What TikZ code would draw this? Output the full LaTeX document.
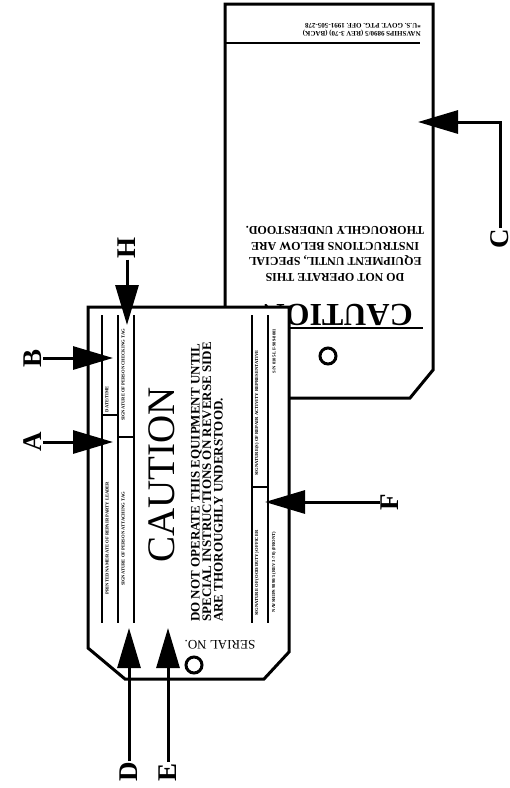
\documentclass[tikz,border=0pt]{standalone}
\usepackage{fontspec}
\setmainfont{Liberation Serif}
\usetikzlibrary{arrows.meta}

\begin{document}
\begin{tikzpicture}[x=1pt, y=-1pt,
  tagline/.style={line width=3pt, line join=miter, fill=white},
  field/.style={line width=2.4pt},
  fieldtext/.style={font=\fontsize{4.6}{5}\selectfont\bfseries, rotate=90, inner sep=0pt},
  letter/.style={font=\fontsize{27}{27}\selectfont\bfseries, rotate=90, inner sep=1pt},
  callout/.style={line width=3pt, -{Triangle[length=40pt,width=23pt]}}]
  \useasboundingbox (0,0) rectangle (510,788);
  % back of the tag
  \draw[tagline] (225,4) -- (433,4) -- (433,370) -- (410,398) -- (225,398) -- cycle;
  \draw[line width=2pt] (225,43) -- (420,43);
  \node[rotate=180, anchor=north west, inner sep=0pt, align=left,
        font=\fontsize{7}{8}\selectfont\bfseries] (formno) at (421,37)
        {NAVSHIPS 9890/5 (REV 3-70) (BACK)\\*U.S. GOVT. PTG. OFF. 1991-505-278};
  \node[rotate=180, align=center, font=\fontsize{12}{15.5}\selectfont\bfseries] (backwarn) at (335,254)
        {DO NOT OPERATE THIS\\EQUIPMENT UNTIL, SPECIAL\\INSTRUCTIONS BELOW ARE\\THOROUGHLY UNDERSTOOD.};
  \node[rotate=180, anchor=west, inner sep=0pt, font=\fontsize{32}{32}\selectfont\bfseries] (backcaution) at (413,315) {CAUTION};
  \draw[line width=2.4pt] (240,328) -- (423,328);
  \draw[line width=3pt] (328,356) circle[radius=8pt];
  % front of the tag
  \draw[tagline] (88,307) -- (289,307) -- (289,652) -- (264,679) -- (125,679) -- (88,648) -- cycle;
  \foreach \x in {102,118,134,252,268}
    \draw[field] (\x,315) -- (\x,623);
  \draw[field] (102,415) -- (118,415);
  \draw[field] (118,437) -- (134,437);
  \draw[field] (252,487) -- (268,487);
  \node[fieldtext] (date) at (107,399) {DATE/TIME};
  \node[fieldtext] (leader) at (107,538) {PRINTED NAME/RATE OF REPAIR PARTY LEADER};
  \node[fieldtext] (checking) at (123,375) {SIGNATURE OF PERSON CHECKING TAG};
  \node[fieldtext] (attaching) at (123,539) {SIGNATURE OF PERSON ATTACHING TAG};
  \node[fieldtext] (activity) at (257,413) {SIGNATURE(S) OF REPAIR ACTIVITY REPRESENTATIVE};
  \node[fieldtext] (officer) at (257,573) {SIGNATURE OF (OOD/DUTY) OFFICER};
  \node[fieldtext] (stock) at (274,351) {S/N 0105-LF-989-8001};
  \node[fieldtext] (front) at (274,572) {NAVSHIPS 9890/5 (REV 3-70) (FRONT)};
  \node[rotate=90, font=\fontsize{39}{39}\selectfont] (caution) at (162,475) {CAUTION};
  \node[rotate=90, align=left, font=\fontsize{13}{11.5}\selectfont\bfseries] (warn) at (207,482)
        {DO NOT OPERATE THIS EQUIPMENT UNTIL\\SPECIAL INSTRUCTIONS ON REVERSE SIDE\\ARE THOROUGHLY UNDERSTOOD.};
  \node[rotate=180, font=\fontsize{13}{13}\selectfont] (serial) at (220,645) {SERIAL NO.};
  \draw[line width=3pt] (194,665) circle[radius=8pt];
  % callouts
  \node[letter] (labA) at (33,442) {A};
  \node[letter] (labB) at (33,358) {B};
  \node[letter] (labH) at (127,248) {H};
  \node[letter] (labD) at (129,772) {D};
  \node[letter] (labE) at (168,772) {E};
  \node[letter] (labF) at (390,502) {F};
  \node[letter] (labC) at (500,239) {C};
  \coordinate (tipA) at (113,442);
  \coordinate (tipB) at (113,358);
  \coordinate (tipH) at (127,325);
  \coordinate (tipD) at (129,628);
  \coordinate (tipE) at (168,628);
  \coordinate (tipF) at (265,502);
  \coordinate (tipC) at (418,122);
  \draw[callout] (labA) -- (tipA);
  \draw[callout] (labB) -- (tipB);
  \draw[callout] (labH) -- (tipH);
  \draw[callout] (labD) -- (tipD);
  \draw[callout] (labE) -- (tipE);
  \draw[callout] (labF) -- (tipF);
  \draw[callout] (labC) |- (tipC);
\end{tikzpicture}
\end{document}
